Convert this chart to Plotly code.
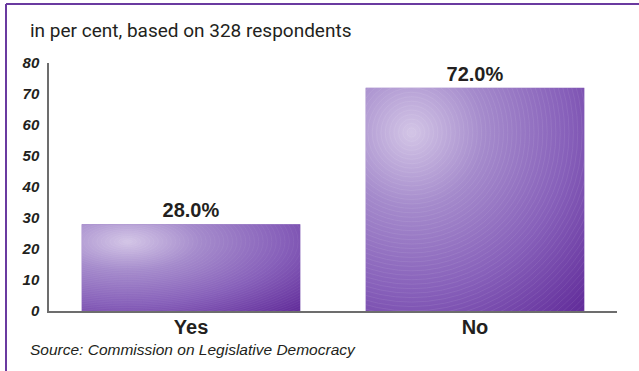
import base64
import plotly.graph_objects as go

# Survey answers, share of respondents in per cent
categories = ["Yes", "No"]
shares = [28.0, 72.0]
value_labels = [f"{v:.1f}%" for v in shares]
y_ticks = [0, 10, 20, 30, 40, 50, 60, 70, 80]

title_text = "in per cent, based on 328 respondents"
source_text = "Source: Commission on Legislative Democracy"

NARROW = "Liberation Sans Narrow, Arial Narrow, sans-serif"
BAR_WIDTH = 0.77
PURPLE = "#6a3aa0"

# radial purple gradient used as the bar surface
rings = "".join(
    f'<circle cx="21" cy="20" r="{r}" fill="none" stroke="white" stroke-opacity="0.10" stroke-width="0.35"/>'
    for r in range(2, 130, 2)
)
svg = (
    '<svg xmlns="http://www.w3.org/2000/svg" width="400" height="400" viewBox="0 0 100 100" '
    'preserveAspectRatio="none"><defs>'
    '<radialGradient id="g" cx="0.21" cy="0.2" r="1.1" gradientUnits="objectBoundingBox">'
    '<stop offset="0" stop-color="#d3c5e6"/>'
    '<stop offset="0.3" stop-color="#a58bcc"/>'
    '<stop offset="0.65" stop-color="#8760ba"/>'
    '<stop offset="1" stop-color="#632e9b"/>'
    '</radialGradient></defs>'
    '<rect width="100" height="100" fill="url(#g)"/>' + rings + '</svg>'
)
gradient_src = "data:image/svg+xml;base64," + base64.b64encode(svg.encode()).decode()

fig = go.Figure(
    go.Bar(
        x=categories,
        y=shares,
        width=BAR_WIDTH,
        marker=dict(color="#8e6cbd", line=dict(width=0)),
        text=value_labels,
        textposition="outside",
        textfont=dict(family=NARROW, size=20, color="#231f20", weight="bold"),
        cliponaxis=False,
        hoverinfo="skip",
    )
)

# gradient surfaces placed over each bar in data coordinates
fig.update_layout(
    images=[
        dict(
            source=gradient_src,
            xref="x", yref="y",
            x=i - BAR_WIDTH / 2, y=v,
            sizex=BAR_WIDTH, sizey=v,
            xanchor="left", yanchor="top",
            sizing="stretch", layer="above",
        )
        for i, v in enumerate(shares)
    ]
)

fig.update_layout(
    width=639,
    height=371,
    margin=dict(l=49, r=22, t=63, b=60),
    paper_bgcolor="white",
    plot_bgcolor="white",
    showlegend=False,
    title=dict(
        text=title_text,
        xref="container", yref="container",
        x=30 / 639, y=1 - 30 / 371,
        xanchor="left", yanchor="middle",
        font=dict(family="Roboto, sans-serif", size=19, color="#231f20"),
    ),
    xaxis=dict(
        type="category",
        range=[-0.5, 1.5],
        showgrid=False,
        showline=True,
        linecolor="#6d6d6d",
        linewidth=2,
        ticks="",
        ticklabelstandoff=-3,
        tickfont=dict(family=NARROW, size=20, color="#231f20", weight="bold"),
    ),
    yaxis=dict(
        range=[0, 80],
        tickvals=y_ticks,
        showgrid=False,
        zeroline=False,
        showline=True,
        linecolor="#6d6d6d",
        linewidth=1.5,
        ticks="outside",
        ticklen=5,
        tickcolor="rgba(0,0,0,0)",
        tickfont=dict(family=NARROW, size=15, color="#231f20", weight="bold", style="italic"),
    ),
    annotations=[
        dict(
            text=source_text,
            xref="paper", yref="paper",
            x=(28 - 49) / 568, y=(311 - 349) / 248,
            xanchor="left", yanchor="middle",
            showarrow=False,
            font=dict(family="Liberation Sans, Arial, sans-serif", size=15.5, color="#231f20", style="italic"),
        )
    ],
    shapes=[
        # frame lines along the top and left edges
        dict(type="line", xref="paper", yref="paper",
             x0=(6 - 49) / 568, x1=(639 - 49) / 568,
             y0=(311 - 4) / 248, y1=(311 - 4) / 248,
             line=dict(color=PURPLE, width=2)),
        dict(type="line", xref="paper", yref="paper",
             x0=(6 - 49) / 568, x1=(6 - 49) / 568,
             y0=(311 - 4) / 248, y1=(311 - 372) / 248,
             line=dict(color=PURPLE, width=2)),
    ],
)

fig.write_html("out.html")
